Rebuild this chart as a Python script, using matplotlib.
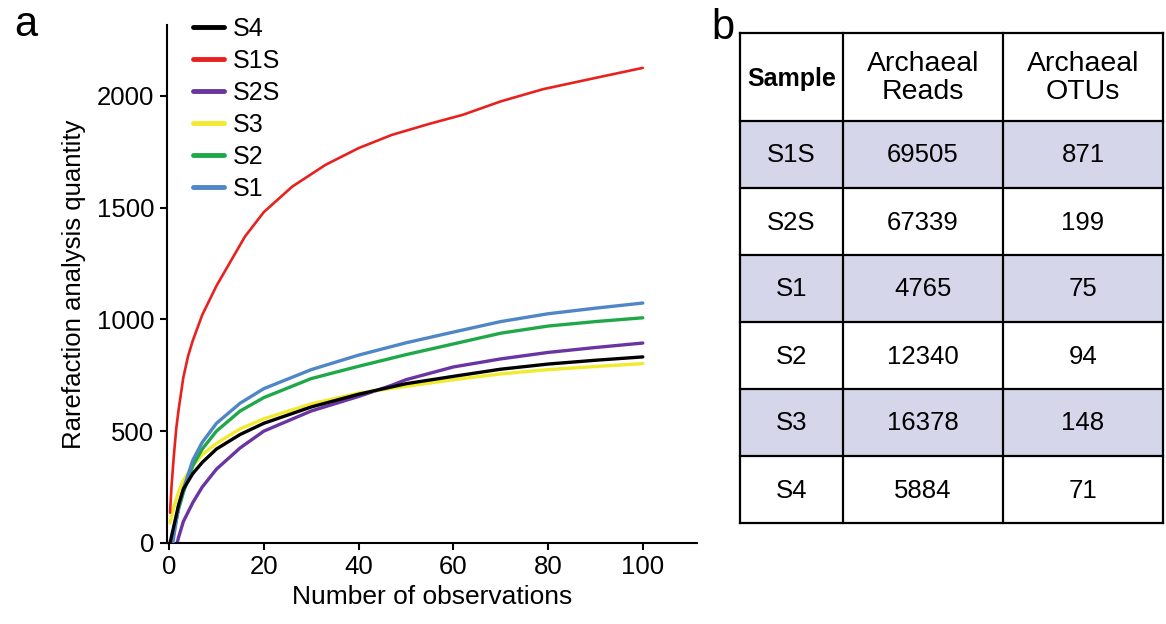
import matplotlib
matplotlib.use('Agg')
import matplotlib.pyplot as plt
from matplotlib.patches import Rectangle

plt.rcParams['font.family'] = ['Liberation Sans', 'DejaVu Sans']

# Rarefaction curves
s4_x = [0.2, 1, 2, 3, 5, 7, 10, 15, 20, 30, 40, 50, 60, 70, 80, 90, 100]
s4_y = [0, 75, 170, 240, 310, 360, 420, 485, 535, 608, 665, 712, 745, 777, 800, 817, 832]

s1s_x = [0.2, 0.5, 1, 1.5, 2, 3, 4, 5, 7, 10, 13, 16, 20, 26, 33, 40, 47, 55, 62, 70, 79, 90, 100]
s1s_y = [135, 250, 390, 510, 595, 740, 835, 905, 1020, 1150, 1260, 1370, 1480, 1594, 1691,
         1766, 1825, 1875, 1915, 1975, 2030, 2080, 2125]

s2s_x = [1.7, 2, 3, 5, 7, 10, 15, 20, 30, 40, 47, 50, 60, 70, 80, 90, 100]
s2s_y = [0, 25, 95, 180, 250, 330, 425, 500, 590, 655, 705, 730, 787, 823, 852, 874, 894]

s3_x = [0.2, 1, 2, 3, 5, 7, 10, 15, 20, 30, 40, 50, 60, 70, 80, 90, 100]
s3_y = [90, 160, 228, 280, 345, 395, 445, 510, 555, 622, 670, 700, 730, 756, 775, 789, 802]

s2_x = [0.6, 1, 2, 3, 5, 7, 10, 15, 20, 30, 40, 50, 60, 70, 80, 90, 100]
s2_y = [0, 50, 150, 225, 345, 420, 500, 590, 650, 735, 790, 842, 890, 938, 970, 990, 1007]

s1_x = [0.8, 1, 2, 3, 5, 7, 10, 15, 20, 30, 40, 50, 60, 70, 80, 90, 100]
s1_y = [0, 30, 165, 240, 370, 450, 535, 625, 690, 775, 840, 895, 943, 990, 1025, 1050, 1073]

# Table
col_labels = ['Sample', 'Archaeal\nReads', 'Archaeal\nOTUs']
samples = ['S1S', 'S2S', 'S1', 'S2', 'S3', 'S4']
reads = [69505, 67339, 4765, 12340, 16378, 5884]
otus = [871, 199, 75, 94, 148, 71]

fig = plt.figure(figsize=(11.66, 6.24), dpi=100)
ax = fig.add_axes([0.143, 0.130, 0.455, 0.830])

series = [
    ('S4', s4_x, s4_y, '#000000', 2.4),
    ('S1S', s1s_x, s1s_y, '#e8211f', 1.9),
    ('S2S', s2s_x, s2s_y, '#6a35a0', 2.4),
    ('S3', s3_x, s3_y, '#f2ea2e', 2.4),
    ('S2', s2_x, s2_y, '#1fa84a', 2.4),
    ('S1', s1_x, s1_y, '#4f86c6', 2.4),
]
# draw order: purple underneath, then the others
zorders = {'S2S': 2, 'S4': 4, 'S3': 3, 'S1S': 5, 'S2': 3, 'S1': 3}
for name, xs, ys, c, lw in series:
    ax.plot(xs, ys, color=c, lw=lw, label=name, zorder=zorders[name],
            solid_capstyle='round')

ax.set_xlim(-0.5, 111.5)
ax.set_ylim(0, 2317)
ax.set_xticks([0, 20, 40, 60, 80, 100])
ax.set_yticks([0, 500, 1000, 1500, 2000])
for sp in ['top', 'right']:
    ax.spines[sp].set_visible(False)
for sp in ['left', 'bottom']:
    ax.spines[sp].set_linewidth(1.5)
ax.tick_params(direction='out', length=5, width=1.5, labelsize=18.5, pad=4)
ax.set_xlabel('Number of observations', fontsize=19, labelpad=4)
ax.set_ylabel('Rarefaction analysis quantity', fontsize=18.5, labelpad=8)

leg = ax.legend(loc='upper left', bbox_to_anchor=(0.03, 1.035), frameon=False,
                fontsize=18, handlelength=1.25, handletextpad=0.35,
                labelspacing=0.32, borderaxespad=0)
for h in leg.get_lines():
    h.set_linewidth(3.5)

fig.text(0.012, 0.96, 'a', fontsize=30, va='center', ha='left')
fig.text(0.610, 0.955, 'b', fontsize=30, va='center', ha='left')

# table drawn in pixel units
W, H = 423, 490
tax = fig.add_axes([740 / 1166, (624 - 523) / 624, W / 1166, H / 624])
tax.set_xlim(0, W)
tax.set_ylim(H, 0)
tax.axis('off')
col_edges = [0, 103, 263, 423]
head_h = 88
row_h = (H - head_h) / len(samples)
shade = '#d5d6ea'

for j, lab in enumerate(col_labels):
    cx = (col_edges[j] + col_edges[j + 1]) / 2
    if j == 0:
        tax.text(cx, head_h / 2 + 2, lab, ha='center', va='center', fontsize=18,
                 fontweight='bold')
    else:
        tax.text(cx, head_h / 2 + 1, lab, ha='center', va='center', fontsize=20.5,
                 linespacing=1.1)

for i, (s, r, o) in enumerate(zip(samples, reads, otus)):
    y0 = head_h + i * row_h
    if i % 2 == 0:
        tax.add_patch(Rectangle((0, y0), W, row_h, facecolor=shade, edgecolor='none', zorder=0))
    for j, val in enumerate([s, str(r), str(o)]):
        cx = (col_edges[j] + col_edges[j + 1]) / 2
        tax.text(cx, y0 + row_h / 2 + 1, val, ha='center', va='center', fontsize=18.5)

# grid lines
for xe in col_edges:
    tax.plot([xe, xe], [0, H], color='black', lw=1.6, clip_on=False)
for k in range(len(samples) + 2):
    ye = 0 if k == 0 else head_h + (k - 1) * row_h
    tax.plot([0, W], [ye, ye], color='black', lw=1.6, clip_on=False)

fig.savefig('out.png', dpi=100)
